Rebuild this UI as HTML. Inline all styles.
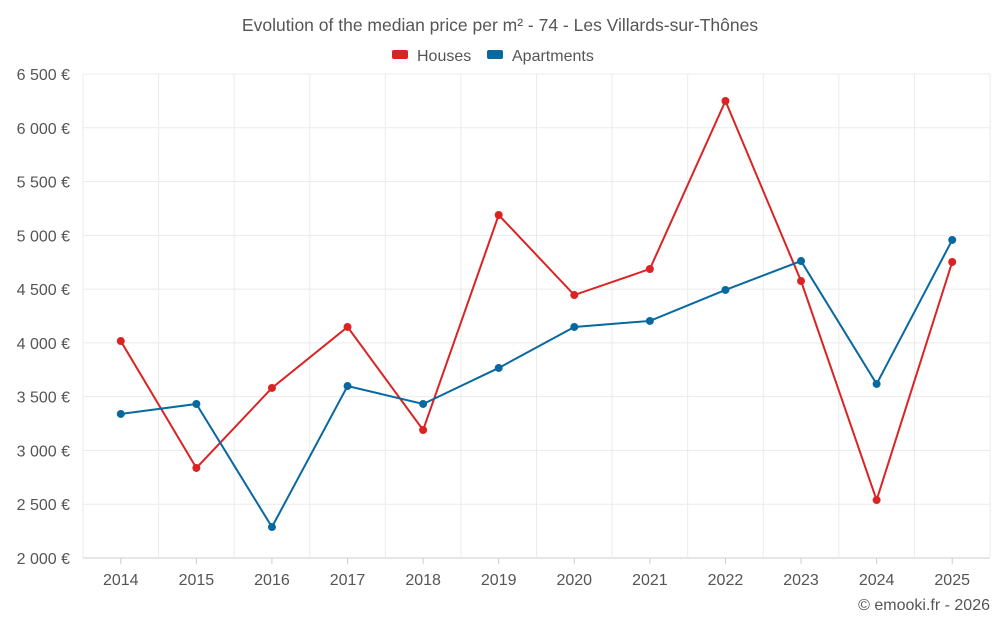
<!DOCTYPE html>
<html><head><meta charset="utf-8">
<style>
body{margin:0;background:#fff;font-family:"Liberation Sans",Roboto,sans-serif;}
svg text{font-family:"Liberation Sans",sans-serif;}
</style></head>
<body>
<svg id="chart" width="1000" height="625">
<text x="500" y="31" text-anchor="middle" font-size="17.5" fill="#555">Evolution of the median price per m² - 74 - Les Villards-sur-Thônes</text>
<g>
<g><rect x="392" y="50" width="16" height="9" rx="2" fill="#dc2323"/><text x="417" y="61" font-size="16" fill="#555">Houses</text></g>
<g><rect x="487" y="50" width="16" height="9" rx="2" fill="#0868a0"/><text x="512" y="61" font-size="16" fill="#555">Apartments</text></g>
</g>
<g id="grid"></g><g id="axes"></g><g id="series"></g>
<text x="990" y="610" text-anchor="end" font-size="16" fill="#555">© emooki.fr - 2026</text>
</svg>
<script>
const years=["2014","2015","2016","2017","2018","2019","2020","2021","2022","2023","2024","2025"];
const houses=[4017,2837,3581,4148,3190,5189,4445,4687,6249,4575,2539,4752];
const apartments=[3339,3432,2288,3599,3432,3767,4148,4204,4492,4761,3618,4957];
const yTicks=[2000,2500,3000,3500,4000,4500,5000,5500,6000,6500];
const yTickLabels=["2 000 €","2 500 €","3 000 €","3 500 €","4 000 €","4 500 €","5 000 €","5 500 €","6 000 €","6 500 €"];
const NS="http://www.w3.org/2000/svg";
const L=83,R=990,T=74,B=558,yMin=2000,yMax=6500;
const step=(R-L)/years.length;
const x=i=>L+step*(i+0.5);
const y=v=>B-(v-yMin)/(yMax-yMin)*(B-T);
function mk(tag,attrs,parent){const e=document.createElementNS(NS,tag);for(const k in attrs)e.setAttribute(k,attrs[k]);parent.appendChild(e);return e;}
const grid=document.getElementById('grid'),axes=document.getElementById('axes'),ser=document.getElementById('series');
yTicks.forEach((v,i)=>{
 const ln=mk('line',{x1:L,x2:R,y1:y(v),y2:y(v),stroke:i==0?'#ccc':'#ebebeb'},grid);
 
 
 const t=mk('text',{x:70,y:y(v)+6,'text-anchor':'end','font-size':16,fill:'#555'},axes);
 t.textContent=yTickLabels[i];
 
 
});
for(let i=0;i<=years.length;i++){
 const gx=L+step*i;
 const ln=mk('line',{x1:gx,x2:gx,y1:T,y2:B,stroke:'#ebebeb'},grid);
 
 
}
years.forEach((yr,i)=>{
 const tk=mk('line',{x1:x(i),x2:x(i),y1:B,y2:B+6,stroke:'#ccc'},axes);
 
 
 const t=mk('text',{x:x(i),y:585,'text-anchor':'middle','font-size':16,fill:'#555'},axes);
 t.textContent=yr;
 
 
});
function draw(data,color,name){
 const p=mk('polyline',{points:data.map((v,i)=>x(i)+','+y(v)).join(' '),fill:'none',stroke:color,'stroke-width':2},ser);
 
 
 data.forEach((v,i)=>{
  const c=mk('circle',{cx:x(i),cy:y(v),r:4,fill:color},ser);
  
  
 });
}
draw(houses,'#dc2323','houses');
draw(apartments,'#0868a0','apartments');
</script>
</body></html>
